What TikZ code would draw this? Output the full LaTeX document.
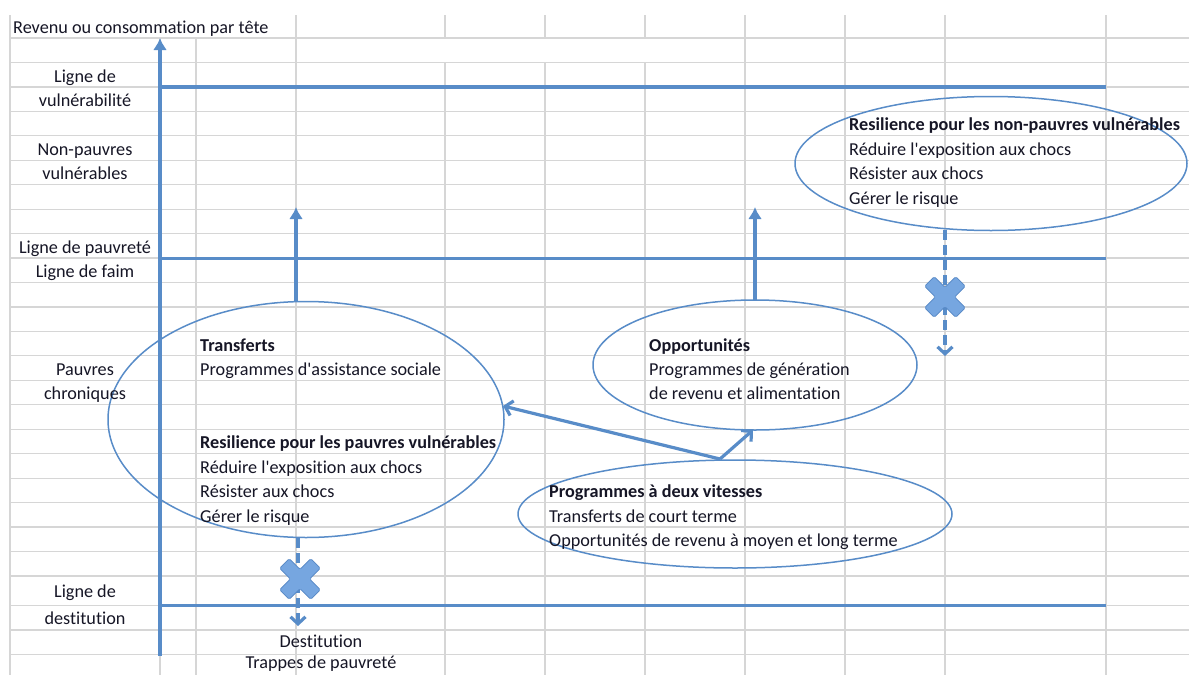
\documentclass[tikz,border=0pt]{standalone}
\usepackage{fontspec}
\setmainfont{Carlito}[Ligatures={TeXOff,CommonOff}]
\usetikzlibrary{arrows.meta,shapes.geometric}
\definecolor{gridc}{RGB}{214,214,214}
\definecolor{lineblue}{RGB}{88,140,200}
\definecolor{xblue}{RGB}{118,166,224}
\definecolor{xedge}{RGB}{84,134,196}
\definecolor{txt}{RGB}{22,22,38}
\newcommand\ry[1]{38+24.45*(#1-0.5)+5}
\begin{document}
\begin{tikzpicture}[x=1pt,y=-1pt,
  gridline/.style={gridc, line width=1.2pt},
  levelline/.style={lineblue, line width=3.4pt},
  ell/.style={draw=lineblue, line width=1.5pt, ellipse, inner sep=0pt},
  lbl/.style={anchor=mid west, inner sep=0pt, text=txt, font=\fontsize{18.2}{21}\selectfont},
  clbl/.style={anchor=mid, inner sep=0pt, text=txt, font=\fontsize{18.2}{21}\selectfont},
  blbl/.style={lbl, font=\fontsize{18.2}{21}\selectfont\bfseries},
  uparrow/.style={lineblue, line width=3.4pt, -{Latex[width=14pt,length=12pt]}},
  openarrow/.style={lineblue, line width=3.2pt, -{Straight Barb[width=15pt,length=7pt]}},
  dasharrow/.style={lineblue, line width=3.2pt, dash pattern=on 10pt off 5pt, -{Straight Barb[width=15pt,length=7pt]}},
  xmark/.pic={
    \fill[xblue, draw=xedge, line width=0.8pt, rounded corners=1.5pt, rotate=45]
      (6.8,22)--(6.8,6.8)--(22,6.8)--(22,-6.8)--(6.8,-6.8)--(6.8,-22)--
      (-6.8,-22)--(-6.8,-6.8)--(-22,-6.8)--(-22,6.8)--(-6.8,6.8)--(-6.8,22)--cycle;
  }
]
\useasboundingbox (0,0) rectangle (1189,675);
\fill[white] (0,0) rectangle (1189,675);
% grid: horizontal
\foreach \k in {0,...,22} \draw[gridline] (10,{38+24.45*\k}) -- (1189,{38+24.45*\k});
\foreach \yy in {605.7,630,654.4} \draw[gridline] (10,\yy) -- (1189,\yy);
% grid: vertical
\foreach \xx in {10,296,745,845,945,1106} \draw[gridline] (\xx,15) -- (\xx,675);
\foreach \xx in {160,196} \draw[gridline] (\xx,38) -- (\xx,675);
\foreach \xx in {445,545,645} {
  \draw[gridline] (\xx,15) -- (\xx,38);
  \draw[gridline] (\xx,62.45) -- (\xx,675);
}
% axis and level lines
\coordinate (axb) at (160,656);
\coordinate (axt) at (160,38);
\draw[uparrow] (axb) -- (axt);
\coordinate (v1) at (160,87); \coordinate (v2) at (1106,87);
\coordinate (p1) at (160,258.5); \coordinate (p2) at (1106,258.5);
\coordinate (d1) at (160,605.7); \coordinate (d2) at (1106,605.7);
\draw[levelline] (v1) -- (v2);
\draw[levelline] (p1) -- (p2);
\draw[levelline] (d1) -- (d2);
% ellipses
\node[ell, minimum width=396pt, minimum height=236pt] (EL) at (306,419.5) {};
\node[ell, minimum width=324pt, minimum height=130pt] (EO) at (755,365) {};
\node[ell, minimum width=392pt, minimum height=134pt] (ER) at (991,163.5) {};
\node[ell, minimum width=434pt, minimum height=108pt] (EB) at (735,514) {};
% upward arrows
\coordinate (u1s) at (296,302); \coordinate (u1e) at (296,207);
\coordinate (u2s) at (755,300); \coordinate (u2e) at (755,207);
\draw[uparrow] (u1s) -- (u1e);
\draw[uparrow] (u2s) -- (u2e);
% junction arrows
\coordinate (J) at (720,459);
\coordinate (jL) at (503,406);
\coordinate (jO) at (753,430);
\draw[openarrow] (J) -- (jL);
\draw[openarrow] (J) -- (jO);
% dashed arrows with crosses
\coordinate (dl1) at (298,538); \coordinate (dl2) at (298,626);
\coordinate (dr1) at (945,230); \coordinate (dr2) at (945,356);
\draw[dasharrow] (dl1) -- (dl2);
\draw[dasharrow] (dr1) -- (dr2);
\pic (X1) at (300,579) {xmark};
\pic (X2) at (945,297) {xmark};
% texts
\node[lbl] (t0) at (13,31) {Revenu ou consommation par tête};
\node[clbl] (l1) at (85,{\ry{2}}) {Ligne de};
\node[clbl] (l2) at (85,{\ry{3}}) {vulnérabilité};
\node[clbl] (l3) at (85,{\ry{5}}) {Non-pauvres};
\node[clbl] (l4) at (85,{\ry{6}}) {vulnérables};
\node[clbl] (l5) at (85,{\ry{9}}) {Ligne de pauvreté};
\node[clbl] (l6) at (85,{\ry{10}}) {Ligne de faim};
\node[clbl] (l7) at (85,{\ry{14}}) {Pauvres};
\node[clbl] (l8) at (85,{\ry{15}}) {chroniques};
\node[clbl] (l9) at (85,595.5) {Ligne de};
\node[clbl] (l10) at (85,622) {destitution};
% left ellipse texts
\node[blbl] (a1) at (200,{\ry{13}}) {Transferts};
\node[lbl] (a2) at (200,{\ry{14}}) {Programmes d'assistance sociale};
\node[blbl] (a3) at (200,{\ry{17}}) {Resilience pour les pauvres vulnérables};
\node[lbl] (a4) at (200,{\ry{18}}) {Réduire l'exposition aux chocs};
\node[lbl] (a5) at (200,{\ry{19}}) {Résister aux chocs};
\node[lbl] (a6) at (200,{\ry{20}}) {Gérer le risque};
% opportunites
\node[blbl] (o1) at (649,{\ry{13}}) {Opportunités};
\node[lbl] (o2) at (649,{\ry{14}}) {Programmes de génération};
\node[lbl] (o3) at (649,{\ry{15}}) {de revenu et alimentation};
% top right
\node[blbl] (r1) at (849,{\ry{4}}) {Resilience pour les non-pauvres vulnérables};
\node[lbl] (r2) at (849,{\ry{5}}) {Réduire l'exposition aux chocs};
\node[lbl] (r3) at (849,{\ry{6}}) {Résister aux chocs};
\node[lbl] (r4) at (849,{\ry{7}}) {Gérer le risque};
% bottom
\node[blbl] (b1) at (549,{\ry{19}}) {Programmes à deux vitesses};
\node[lbl] (b2) at (549,{\ry{20}}) {Transferts de court terme};
\node[lbl] (b3) at (549,{\ry{21}}) {Opportunités de revenu à moyen et long terme};
% destitution
\node[clbl] (s1) at (321,645.5) {Destitution};
\node[clbl] (s2) at (321,666) {Trappes de pauvreté};
\end{tikzpicture}
\end{document}
